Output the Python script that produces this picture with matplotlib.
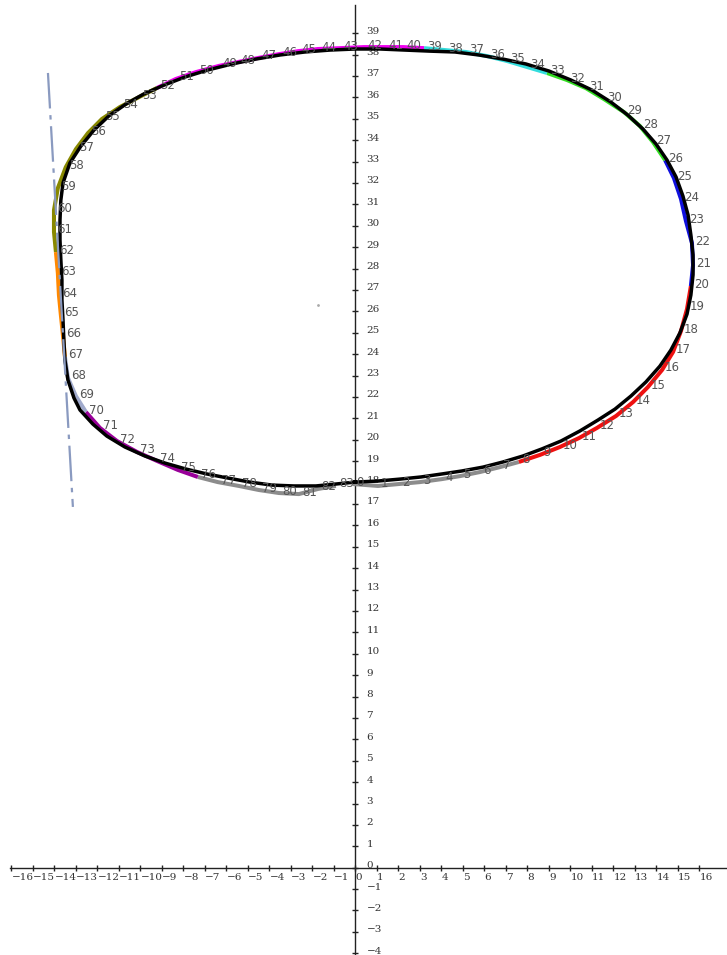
import matplotlib
matplotlib.use("Agg")
import matplotlib.pyplot as plt

# ---- data (axis units) ----
# raw traced path, points labelled 0..83
path_x = [-0.12, 1.05, 2.02, 3.00, 4.02, 4.86, 5.79, 6.72, 7.60, 8.58,
          9.51, 10.40, 11.23, 12.12, 12.91, 13.60, 14.26, 14.77, 15.14, 15.42,
          15.60, 15.70, 15.65, 15.37, 15.14, 14.81, 14.40, 13.84, 13.23, 12.49,
          11.56, 10.72, 9.84, 8.91, 7.98, 7.05, 6.12, 5.14, 4.16, 3.19,
          2.21, 1.37, 0.40, -0.72, -1.74, -2.67, -3.56, -4.53, -5.47, -6.35,
          -7.42, -8.35, -9.23, -10.07, -10.95, -11.79, -12.44, -13.00, -13.47, -13.84,
          -14.02, -14.02, -13.93, -13.84, -13.79, -13.70, -13.60, -13.51, -13.37, -13.00,
          -12.53, -11.88, -11.09, -10.16, -9.23, -8.26, -7.33, -6.40, -5.42, -4.49,
          -3.56, -2.63, -1.74, -0.91]
path_y = [17.93, 17.84, 17.93, 18.02, 18.16, 18.30, 18.49, 18.72, 18.96, 19.29,
          19.66, 20.08, 20.55, 21.11, 21.76, 22.46, 23.26, 24.10, 25.08, 26.11,
          27.18, 28.16, 29.19, 30.22, 31.25, 32.23, 33.07, 33.91, 34.66, 35.31,
          35.92, 36.43, 36.81, 37.14, 37.42, 37.70, 37.93, 38.12, 38.21, 38.30,
          38.35, 38.35, 38.35, 38.30, 38.26, 38.16, 38.02, 37.84, 37.65, 37.47,
          37.18, 36.86, 36.44, 36.01, 35.55, 34.99, 34.33, 33.58, 32.74, 31.76,
          30.73, 29.71, 28.77, 27.79, 26.76, 25.83, 24.85, 23.87, 22.89, 22.04,
          21.29, 20.55, 19.94, 19.43, 19.01, 18.59, 18.26, 18.02, 17.84, 17.65,
          17.51, 17.46, 17.70, 17.84]

# coloured pieces of the traced path: (first index, last index, colour)
segments = [
    (76, 83, "#8c8c8c"), (0, 8, "#8c8c8c"),
    (8, 20, "#ee1111"),
    (20, 26, "#1010dd"),
    (26, 33, "#33dd22"),
    (33, 39, "#33dddd"),
    (39, 52, "#ee00ee"),
    (52, 62, "#888800"),
    (62, 67, "#ff8800"),
    (67, 70, "#a0aacc"),
    (70, 76, "#990099"),
]

# smoothed fitted curve (black)
fit_x = [-0.02, 1.05, 2.07, 3.05, 4.02, 4.95, 5.93, 6.86, 7.79, 8.67,
         9.56, 10.44, 11.28, 12.07, 12.81, 13.51, 14.16, 14.67, 15.09, 15.42,
         15.60, 15.70, 15.70, 15.60, 15.47, 15.23, 14.91, 14.49, 13.98, 13.37,
         12.67, 11.88, 11.00, 10.02, 9.00, 7.93, 6.86, 5.74, 4.63, 3.47,
         2.30, 1.14, -0.02, -1.19, -2.35, -3.51, -4.63, -5.74, -6.86, -7.93,
         -8.91, -9.84, -10.67, -11.47, -12.16, -12.77, -13.28, -13.60, -13.70, -13.74,
         -13.74, -13.70, -13.65, -13.65, -13.60, -13.56, -13.51, -13.37, -13.09, -12.81,
         -12.21, -11.56, -10.72, -9.79, -8.86, -7.88, -6.91, -5.93, -4.91, -3.88,
         -2.86, -1.84, -0.91, -0.02]
fit_y = [18.02, 18.07, 18.16, 18.26, 18.40, 18.54, 18.72, 18.96, 19.24, 19.57,
         19.94, 20.41, 20.92, 21.43, 22.04, 22.70, 23.44, 24.19, 24.99, 25.87,
         26.76, 27.70, 28.63, 29.57, 30.50, 31.39, 32.28, 33.07, 33.82, 34.52,
         35.17, 35.78, 36.34, 36.81, 37.23, 37.56, 37.79, 37.98, 38.12, 38.16,
         38.21, 38.26, 38.26, 38.21, 38.12, 37.98, 37.79, 37.56, 37.28, 36.95,
         36.57, 36.16, 35.69, 35.13, 34.47, 33.72, 32.93, 32.00, 31.20, 30.27,
         29.33, 28.40, 27.46, 26.53, 25.59, 24.66, 23.72, 22.79, 21.95, 21.39,
         20.73, 20.17, 19.66, 19.24, 18.91, 18.63, 18.40, 18.21, 18.02, 17.88,
         17.84, 17.84, 17.93, 18.02]

# dash-dot reference line on the left
ref_x = [-14.30, -13.14]
ref_y = [37.14, 16.86]

# small stray mark inside the loop
stray_x = [-1.74]
stray_y = [26.30]

x_ticks = list(range(-16, 17))
y_ticks = list(range(-4, 40))

# ---- figure ----
fig = plt.figure(figsize=(7.27, 9.55), dpi=100)
ax = fig.add_axes([0, 0, 1, 1])
ax.set_xlim(-16.53, 17.28)
ax.set_ylim(-4.08, 40.55)
ax.axis("off")

# axes lines
ax.plot([-16.05, 17.28], [0, 0], color="#222222", lw=1.0, zorder=1)
ax.plot([0, 0], [-4.08, 40.31], color="#222222", lw=1.0, zorder=1)
ax.plot(x_ticks, [0] * len(x_ticks), ls="none", marker="|", ms=5, mew=1.0,
        color="#222222", zorder=1)
ax.plot([0] * len(y_ticks), y_ticks, ls="none", marker="_", ms=5, mew=1.0,
        color="#222222", zorder=1)

tick_font = dict(family="DejaVu Serif", size=7.5, color="#333333")
for t in x_ticks:
    lab = str(t).replace("-", "\u2212")
    ax.annotate(lab, (t, 0), xytext=(0, -10), textcoords="offset pixels",
                ha="left", va="center", **tick_font)
for t in y_ticks:
    lab = str(t).replace("-", "\u2212")
    ax.annotate(lab, (0, t), xytext=(11, 2), textcoords="offset pixels",
                ha="left", va="center", **tick_font)

ax.plot(stray_x, stray_y, ls="none", marker=".", ms=2, color="#aaaaaa", zorder=1)

# coloured traced path
for a, b, c in segments:
    ax.plot(path_x[a:b + 1], path_y[a:b + 1], color=c, lw=2.9,
            solid_capstyle="butt", solid_joinstyle="round", zorder=2)

# point labels
for i, (px, py) in enumerate(zip(path_x, path_y)):
    ax.annotate(str(i), (px, py), xytext=(3, 2), textcoords="offset pixels",
                ha="left", va="center", fontsize=8.5, color="#555555",
                family="DejaVu Sans", zorder=5)

# fitted curve
ax.plot(fit_x, fit_y, color="black", lw=2.5, solid_joinstyle="round", zorder=3)

# reference line
ax.plot(ref_x, ref_y, color="#8a9ac0", lw=1.6, ls=(0, (16, 3, 2, 3)), zorder=4)

fig.savefig("out.png", dpi=100)
